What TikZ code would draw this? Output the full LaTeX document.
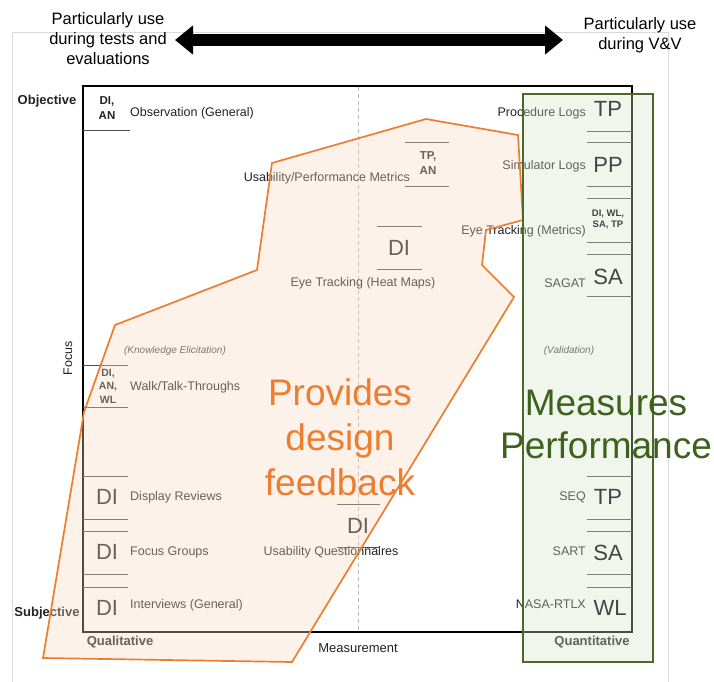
\documentclass[tikz,border=0pt]{standalone}
\usepackage{fontspec}
\setmainfont{Liberation Sans}
\usetikzlibrary{arrows.meta}
\definecolor{orng}{RGB}{237,125,49}
\definecolor{peach}{RGB}{247,218,194}
\definecolor{grn}{RGB}{78,104,42}
\definecolor{grntxt}{RGB}{62,98,30}
\definecolor{mint}{RGB}{212,229,200}
\definecolor{ink}{RGB}{35,35,35}
\begin{document}
\begin{tikzpicture}[x=1pt,y=-1pt,
  lbl/.style={font=\fontsize{12.5}{14}\selectfont, text=ink, inner sep=0pt},
  ital/.style={font=\itshape\fontsize{10}{12}\selectfont, text=ink!85, inner sep=0pt},
  codes/.style={font=\bfseries\fontsize{11.5}{14.5}\selectfont, text=ink, align=center, inner sep=0pt},
  codess/.style={font=\bfseries\fontsize{9.5}{11}\selectfont, text=ink, align=center, inner sep=0pt},
  codebig/.style={font=\fontsize{22}{24}\selectfont, text=ink, inner sep=0pt},
  axlbl/.style={font=\bfseries\fontsize{13}{15}\selectfont, text=ink, inner sep=0pt},
  toptxt/.style={font=\fontsize{16.5}{20}\selectfont, text=black, align=center, inner sep=0pt},
  sepline/.style={draw=ink!80, line width=0.9pt},
  bigtxt/.style={font=\fontsize{37}{45}\selectfont, align=center, inner sep=0pt}]
\useasboundingbox (0,0) rectangle (714,681);
\fill[white] (0,0) rectangle (714,681);
% outer frame
\draw[gray!30, line width=0.8pt] (12,695) -- (12,32) -- (668,32) -- (668,695);
% big double arrow
\coordinate (arrL) at (175,40);
\coordinate (arrR) at (563,40);
\draw[line width=12pt, {Triangle[length=18pt,width=28pt]}-{Triangle[length=18pt,width=28pt]}] (arrL) -- (arrR);
\node[toptxt] (tl) at (108,39) {Particularly use\\during tests and\\evaluations};
\node[toptxt] (tr) at (640,35) {Particularly use\\during V\&V};
% dashed centre line
\coordinate (dT) at (358,87);
\coordinate (dB) at (358,631);
\draw[gray!55, line width=0.8pt, dash pattern=on 4pt off 3pt] (dT) -- (dB);
% main rectangle
\draw[black, line width=2pt] (83,86) rectangle (632,632);
% axis labels
\node[axlbl] (obj) at (47,101) {Objective};
\node[axlbl] (subj) at (47,613) {Subjective};
\node[axlbl] (qual) at (120,642) {Qualitative};
\node[axlbl] (quant) at (592,642) {Quantitative};
\node[lbl, font=\fontsize{13}{15}\selectfont] (meas) at (358,648) {Measurement};
\node[lbl, rotate=90] (focus) at (68,358) {Focus};
% left column
\draw[sepline] (83,130) -- (130,130);
\node[codes] (c1) at (107,108) {DI,\\AN};
\node[lbl, anchor=west] (t1) at (130,113) {Observation (General)};
\draw[sepline] (83,365) -- (128,365);
\draw[sepline] (83,407) -- (128,407);
\node[codes, font=\bfseries\fontsize{10.5}{13.5}\selectfont] (c2) at (108,386) {DI,\\AN,\\WL};
\node[lbl, anchor=west] (t2) at (130,387) {Walk/Talk-Throughs};
\node[ital] (ke) at (175,351) {(Knowledge Elicitation)};
\draw[sepline] (83,476) -- (128,476);
\draw[sepline] (83,519) -- (128,519);
\node[codebig] (c3) at (107,497) {DI};
\node[lbl, anchor=west] (t3) at (130,497) {Display Reviews};
\draw[sepline] (83,531) -- (128,531);
\draw[sepline] (83,574) -- (128,574);
\node[codebig] (c4) at (107,552) {DI};
\node[lbl, anchor=west] (t4) at (130,552) {Focus Groups};
\draw[sepline] (83,587) -- (128,587);
\node[codebig] (c5) at (107,608) {DI};
\node[lbl, anchor=west] (t5) at (130,605) {Interviews (General)};
% middle
\draw[sepline] (405,142) -- (449,142);
\draw[sepline] (405,186) -- (449,186);
\node[codes] (m1) at (428,163) {TP,\\AN};
\node[lbl, anchor=east] (mt1) at (410,178) {Usability/Performance Metrics};
\draw[sepline] (377,226) -- (422,226);
\draw[sepline] (377,269) -- (422,269);
\node[codebig] (m2) at (399,248) {DI};
\node[lbl] (mt2) at (363,283) {Eye Tracking (Heat Maps)};
\draw[sepline] (337,504) -- (380,504);
\draw[sepline] (337,547) -- (380,547);
\node[codebig] (m3) at (358,526) {DI};
\node[lbl] (mt3) at (331,552) {Usability Questionnaires};
% right column labels and lines
\node[lbl, anchor=east] (rt1) at (586,113) {Procedure Logs};
\draw[sepline] (587,131) -- (632,131);
\draw[sepline] (587,142) -- (632,142);
\node[lbl, anchor=east] (rt2) at (586,166) {Simulator Logs};
\draw[sepline] (587,186) -- (632,186);
\draw[sepline] (587,198) -- (632,198);
\node[lbl, anchor=east] (rt3) at (586,231) {Eye Tracking (Metrics)};
\draw[sepline] (587,242) -- (632,242);
\draw[sepline] (587,254) -- (632,254);
\node[lbl, anchor=east] (rt4) at (586,283) {SAGAT};
\draw[sepline] (587,296) -- (632,296);
\node[ital] (val) at (569,351) {(Validation)};
\draw[sepline] (587,476) -- (632,476);
\node[lbl, anchor=east] (rt5) at (586,497) {SEQ};
\draw[sepline] (587,519) -- (632,519);
\draw[sepline] (587,531) -- (632,531);
\node[lbl, anchor=east] (rt6) at (586,551) {SART};
\draw[sepline] (587,574) -- (632,574);
\draw[sepline] (587,587) -- (632,587);
\node[lbl, anchor=east] (rt7) at (586,604) {NASA-RTLX};
% orange region
\fill[peach, fill opacity=0.34] (43,658) -- (84,412) -- (115,325) -- (257,270) -- (272,163) -- (426,119) -- (518,135) -- (523,220) -- (486,230) -- (482,265) -- (514,297) -- (292,662) -- cycle;
\draw[orng, line width=1.7pt, line join=miter] (43,658) -- (84,412) -- (115,325) -- (257,270) -- (272,163) -- (426,119) -- (518,135) -- (523,220) -- (486,230) -- (482,265) -- (514,297) -- (292,662) -- cycle;
% green region
\fill[mint, fill opacity=0.34] (523,94) rectangle (653,662);
\draw[grn, line width=1.8pt] (523,94) rectangle (653,662);
% right column codes (dark, above the green tint)
\node[codebig, text=ink!85] (r1) at (608,109) {TP};
\node[codebig, text=ink!85] (r2) at (608,165) {PP};
\node[codess, text=ink!85] (r3) at (608,219) {DI, WL,\\SA, TP};
\node[codebig, text=ink!85] (r4) at (608,277) {SA};
\node[codebig, text=ink!85] (r5) at (608,497) {TP};
\node[codebig, text=ink!85] (r6) at (608,553) {SA};
\node[codebig, text=ink!85] (r7) at (610,608) {WL};
% big texts
\node[bigtxt, text=orng] (pdf) at (340,437) {Provides\\design\\feedback};
\node[bigtxt, text=grntxt, font=\fontsize{37}{43}\selectfont] (mp) at (606,424) {Measures\\Performance};
\end{tikzpicture}
\end{document}
